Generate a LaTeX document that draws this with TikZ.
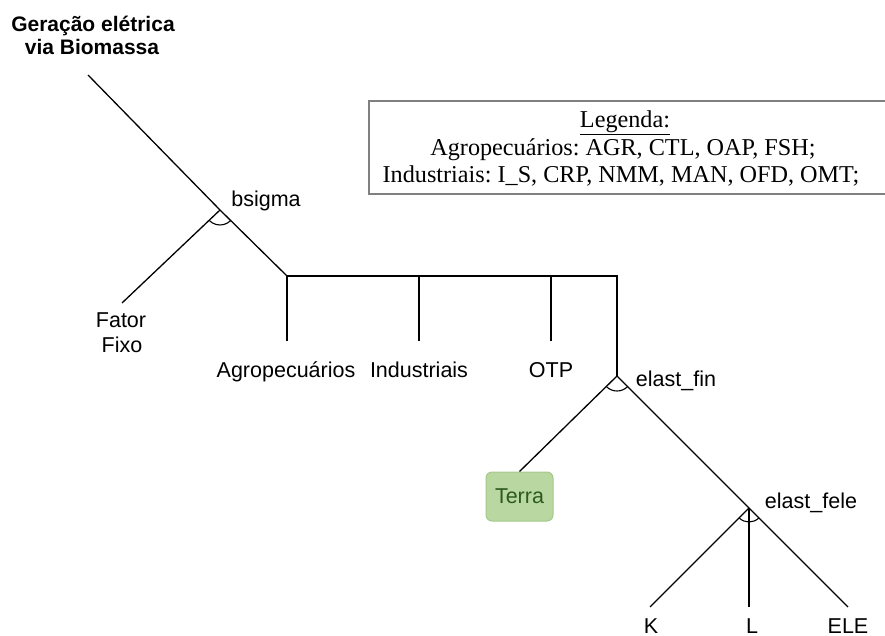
\documentclass[tikz,border=0pt]{standalone}
\usepackage{fontspec}
\setmainfont{Liberation Serif}
\setsansfont{Liberation Sans}
\definecolor{terrafill}{HTML}{B9D7A0}
\definecolor{terradraw}{HTML}{A3C98A}
\definecolor{terratext}{HTML}{2D5A1E}
\definecolor{legborder}{HTML}{808080}
\frenchspacing
\begin{document}
\begin{tikzpicture}[x=1pt,y=-1pt,
  ln/.style={line width=1.3pt},
  lbl/.style={font=\sffamily\fontsize{21.5}{24}\selectfont, inner sep=0pt, anchor=base},
  ttl/.style={font=\sffamily\bfseries\fontsize{21}{24}\selectfont, inner sep=0pt, anchor=base},
  leg/.style={font=\rmfamily\fontsize{24.2}{27}\selectfont, inner sep=0pt, anchor=base},
  arcln/.style={line width=1.1pt},
  terrabox/.style={draw=terradraw, fill=terrafill, rounded corners=6pt, line width=1pt,
    minimum width=67pt, minimum height=49pt, inner sep=0pt,
    font=\sffamily\fontsize{21.5}{24}\selectfont, text=terratext}]
\useasboundingbox (0,0) rectangle (885,636);
\clip (0,0) rectangle (885,636);

% title
\node[ttl] (title1) at (93,32) {Geração elétrica};
\node[ttl] (title2) at (92,55) {via Biomassa};

% legend
\draw[draw=legborder, line width=1.2pt] (369,101) rectangle (900,194);
\node[leg] (leg1) at (625,128) {\underline{Legenda:}};
\node[leg] (leg2) at (623,155.5) {Agropecuários: AGR, CTL, OAP, FSH;};
\node[leg] (leg3) at (621,183) {Industriais: I\_S, CRP, NMM, MAN, OFD, OMT;};

% junction coordinates
\coordinate (top) at (88,75);
\coordinate (bs) at (220,210);
\coordinate (h0) at (287,276);
\coordinate (h1) at (419,276);
\coordinate (h2) at (551,276);
\coordinate (h3) at (617,276);
\coordinate (fin) at (617,376);
\coordinate (fele) at (749,508);
\coordinate (ffend) at (122,303);
\coordinate (agend) at (287,341);
\coordinate (inend) at (419,341);
\coordinate (otend) at (551,341);
\coordinate (kend) at (650,607);
\coordinate (lend) at (749,607);
\coordinate (eend) at (848,607);

% labels
\node[lbl] (bsigma) at (266,207) {bsigma};
\node[lbl] (fator) at (121,327) {Fator};
\node[lbl] (fixo) at (122,352) {Fixo};
\node[lbl] (agro) at (286,377) {Agropecuários};
\node[lbl] (ind) at (419,377) {Industriais};
\node[lbl] (otp) at (551,377) {OTP};
\node[lbl] (efin) at (676,386) {elast\_fin};
\node[lbl] (efele) at (811,508) {elast\_fele};
\node[lbl] (k) at (651,633) {K};
\node[lbl] (l) at (752,633) {L};
\node[lbl] (ele) at (848,633) {ELE};
\node[terrabox] (terra) at (519.5,496.5) {Terra};

% tree lines
\draw[ln] (top) -- (bs) -- (h0);
\draw[ln] (bs) -- (ffend);
\draw[ln] (h0) -- (h3) -- (fin);
\draw[ln] (h0) -- (agend);
\draw[ln] (h1) -- (inend);
\draw[ln] (h2) -- (otend);
\draw[ln] (fin) -- (terra.north);
\draw[ln] (fin) -- (fele) -- (eend);
\draw[ln] (fele) -- (kend);
\draw[ln] (fele) -- (lend);

% elasticity arcs
\draw[arcln] (bs) ++(-45:15pt) arc[start angle=-45, end angle=-136.5, radius=15pt];
\draw[arcln] (fin) ++(-45:15pt) arc[start angle=-45, end angle=-135, radius=15pt];
\draw[arcln] (fele) ++(-45:14pt) arc[start angle=-45, end angle=-135, radius=14pt];
\end{tikzpicture}
\end{document}
